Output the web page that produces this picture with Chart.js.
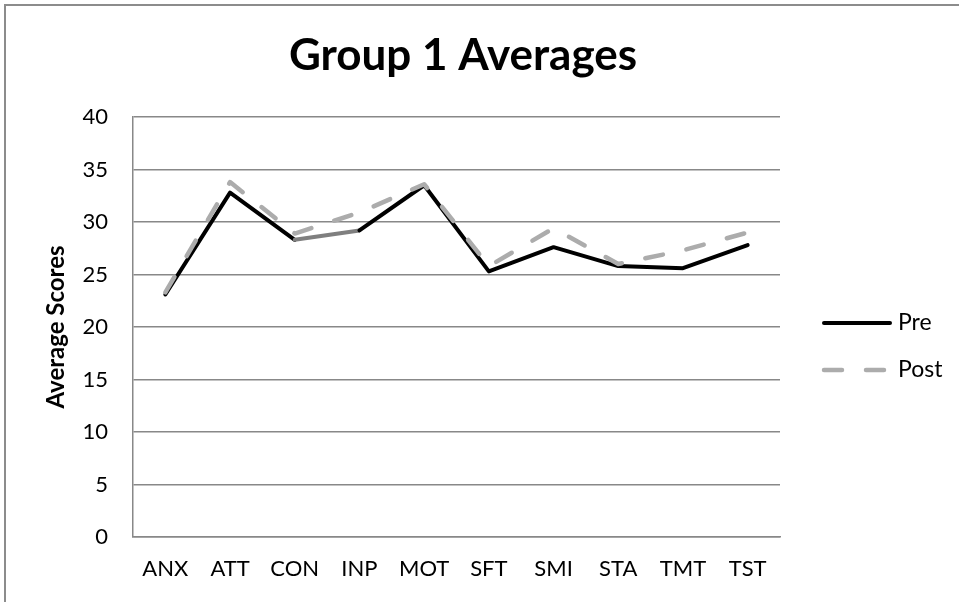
<!DOCTYPE html>
<html>
<head>
<meta charset="utf-8">
<script src="https://cdn.jsdelivr.net/npm/chart.js@4/dist/chart.umd.min.js"></script>
<style>
  html, body { margin: 0; padding: 0; background: #fff; }
  #wrap { position: relative; width: 959px; height: 602px; overflow: hidden; }
  #frame { position: absolute; left: 4px; top: 4px; width: 1000px; height: 1000px;
           border-left: 2px solid #8c8c8c; border-top: 2px solid #8c8c8c; }
  canvas { position: absolute; left: 0; top: 0; }
</style>
</head>
<body>
<div id="wrap">
  <div id="frame"></div>
  <canvas id="chart" width="959" height="602"></canvas>
</div>
<script>
// Subscale categories and group averages
const categories = ['ANX', 'ATT', 'CON', 'INP', 'MOT', 'SFT', 'SMI', 'STA', 'TMT', 'TST'];
const preScores  = [23.1, 32.8, 28.3, 29.2, 33.5, 25.3, 27.6, 25.8, 25.6, 27.8];
const postScores = [23.3, 33.8, 28.9, 30.9, 33.6, 25.8, 29.4, 26.0, 27.3, 29.0];
const seriesNames = ['Pre', 'Post'];
const yMin = 0, yMax = 40, yStep = 5;

const FONT = 'Lato, "Open Sans", "Liberation Sans", sans-serif';

// Right-hand legend: a layout box of fixed width, drawn with each dataset's own line style
const sideLegend = {
  id: 'sideLegend',
  beforeInit(chart, args, opts) {
    const box = {
      position: 'right', fullSize: false, weight: 1000, options: {},
      left: 0, top: 0, right: 0, bottom: 0, width: 0, height: 0,
      isHorizontal() { return false; },
      update(maxWidth, maxHeight) { this.width = opts.width; this.height = maxHeight; },
      draw() {
        const ctx = chart.ctx;
        const mid = this.top + this.height / 2;
        chart.data.datasets.forEach((ds, i) => {
          const y = mid + opts.firstRow + i * opts.rowGap;
          const x0 = this.left + opts.lineStart;
          ctx.save();
          ctx.strokeStyle = ds.borderColor;
          ctx.lineWidth = ds.borderWidth;
          ctx.lineCap = ds.borderCapStyle || 'butt';
          ctx.setLineDash(ds.borderDash || []);
          ctx.beginPath();
          ctx.moveTo(x0 + 2, y);
          ctx.lineTo(x0 + opts.lineLength - 2, y);
          ctx.stroke();
          ctx.setLineDash([]);
          ctx.fillStyle = '#000';
          ctx.font = opts.fontSize + 'px ' + FONT;
          ctx.textBaseline = 'middle';
          ctx.textAlign = 'left';
          ctx.fillText(ds.label, x0 + opts.lineLength + opts.textGap, y);
          ctx.restore();
        });
      }
    };
    Chart.layouts.addBox(chart, box);
  }
};

new Chart(document.getElementById('chart'), {
  type: 'line',
  data: {
    labels: categories,
    datasets: [
      {
        label: seriesNames[0],
        data: preScores,
        borderColor: '#000000',
        borderWidth: 4,
        borderCapStyle: 'round',
        borderJoinStyle: 'round',
        pointRadius: 0,
        tension: 0,
        order: 1,
        segment: { borderColor: c => (c.p0DataIndex === 2 ? '#7f7f7f' : undefined) }
      },
      {
        label: seriesNames[1],
        data: postScores,
        borderColor: '#acacac',
        borderWidth: 4.5,
        borderDash: [18, 24],
        borderCapStyle: 'round',
        borderJoinStyle: 'round',
        pointRadius: 0,
        tension: 0,
        order: 0
      }
    ]
  },
  options: {
    responsive: false,
    animation: false,
    layout: { padding: { left: 0, right: 33, top: 0, bottom: 0 } },
    plugins: {
      legend: { display: false },
      tooltip: { enabled: false },
      title: {
        display: true,
        text: 'Group 1 Averages',
        color: '#000',
        font: { family: FONT, size: 44, weight: 'bold' },
        padding: { top: 29, bottom: 35.2 }
      },
      sideLegend: { width: 146, lineStart: 42, lineLength: 70, textGap: 6, firstRow: -4, rowGap: 47, fontSize: 23 }
    },
    scales: {
      x: {
        offset: true,
        grid: { display: false, drawTicks: false },
        border: { display: true, color: '#888', width: 1.5 },
        ticks: { color: '#000', font: { family: FONT, size: 22 }, padding: 19, autoSkip: false, maxRotation: 0 },
        afterFit(s) { s.height = 65; }
      },
      y: {
        min: yMin,
        max: yMax,
        ticks: { stepSize: yStep, color: '#000', font: { family: FONT, size: 22 }, padding: 25 },
        grid: { color: '#888', lineWidth: 1.5, drawTicks: false },
        border: { color: '#888', width: 1.5 },
        title: {
          display: true,
          text: 'Average Scores',
          color: '#000',
          font: { family: FONT, size: 24, weight: 'bold' },
          padding: { top: 42, bottom: 0 }
        },
        afterFit(s) { s.width = 133; }
      }
    }
  },
  plugins: [sideLegend]
});
</script>
</body>
</html>
